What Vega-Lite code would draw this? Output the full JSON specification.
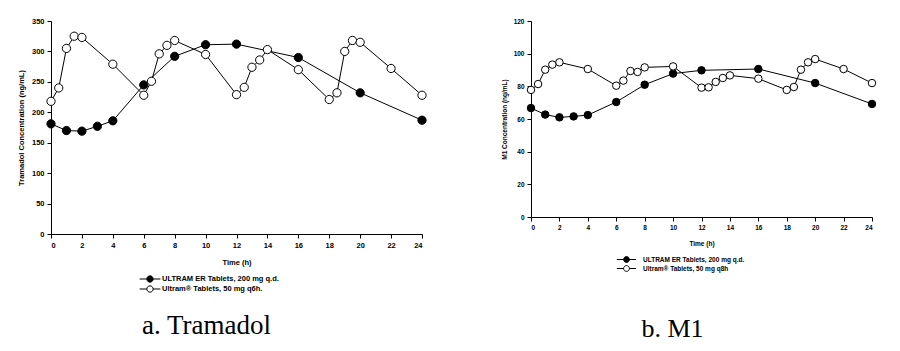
{
  "$schema": "https://vega.github.io/schema/vega-lite/v6.json",
  "background": "white",
  "padding": {"left": 17, "top": 17, "right": 5, "bottom": 5},
  "spacing": 72,
  "config": {
    "view": {"stroke": null},
    "font": "Liberation Sans",
    "axis": {"grid": false, "domainColor": "black", "tickColor": "black", "labelColor": "black", "titleColor": "black", "labelFontWeight": "bold", "titleFontWeight": "bold", "labelFont": "Liberation Sans", "titleFont": "Liberation Sans", "tickSize": 4, "labelPadding": 3},
    "legend": {"labelFont": "Liberation Sans", "labelFontWeight": "bold", "labelColor": "black"},
    "title": {"font": "Liberation Serif", "fontWeight": "normal", "color": "black"}
  },
  "datasets": {
    "tramadol": [
      {"t": 0, "c": 181, "g": "ER"}, {"t": 1, "c": 170, "g": "ER"}, {"t": 2, "c": 169, "g": "ER"}, {"t": 3, "c": 177, "g": "ER"}, {"t": 4, "c": 186, "g": "ER"}, {"t": 6, "c": 245, "g": "ER"}, {"t": 8, "c": 292, "g": "ER"}, {"t": 10, "c": 311, "g": "ER"}, {"t": 12, "c": 312, "g": "ER"}, {"t": 16, "c": 290, "g": "ER"}, {"t": 20, "c": 232, "g": "ER"}, {"t": 24, "c": 187, "g": "ER"},
      {"t": 0, "c": 218, "g": "IR"}, {"t": 0.5, "c": 240, "g": "IR"}, {"t": 1, "c": 305, "g": "IR"}, {"t": 1.5, "c": 325, "g": "IR"}, {"t": 2, "c": 323, "g": "IR"}, {"t": 4, "c": 279, "g": "IR"}, {"t": 6, "c": 228, "g": "IR"}, {"t": 6.5, "c": 251, "g": "IR"}, {"t": 7, "c": 296, "g": "IR"}, {"t": 7.5, "c": 310, "g": "IR"}, {"t": 8, "c": 318, "g": "IR"}, {"t": 10, "c": 295, "g": "IR"}, {"t": 12, "c": 229, "g": "IR"}, {"t": 12.5, "c": 241, "g": "IR"}, {"t": 13, "c": 274, "g": "IR"}, {"t": 13.5, "c": 286, "g": "IR"}, {"t": 14, "c": 303, "g": "IR"}, {"t": 16, "c": 270, "g": "IR"}, {"t": 18, "c": 221, "g": "IR"}, {"t": 18.5, "c": 232, "g": "IR"}, {"t": 19, "c": 300, "g": "IR"}, {"t": 19.5, "c": 318, "g": "IR"}, {"t": 20, "c": 315, "g": "IR"}, {"t": 22, "c": 272, "g": "IR"}, {"t": 24, "c": 228, "g": "IR"}
    ],
    "m1": [
      {"t": 0, "c": 66.7, "g": "ER"}, {"t": 1, "c": 62.7, "g": "ER"}, {"t": 2, "c": 61.0, "g": "ER"}, {"t": 3, "c": 61.6, "g": "ER"}, {"t": 4, "c": 62.4, "g": "ER"}, {"t": 6, "c": 70.4, "g": "ER"}, {"t": 8, "c": 81.0, "g": "ER"}, {"t": 10, "c": 87.8, "g": "ER"}, {"t": 12, "c": 89.8, "g": "ER"}, {"t": 16, "c": 90.6, "g": "ER"}, {"t": 20, "c": 82.0, "g": "ER"}, {"t": 24, "c": 69.2, "g": "ER"},
      {"t": 0, "c": 77.8, "g": "IR"}, {"t": 0.5, "c": 81.4, "g": "IR"}, {"t": 1, "c": 90.2, "g": "IR"}, {"t": 1.5, "c": 93.3, "g": "IR"}, {"t": 2, "c": 94.7, "g": "IR"}, {"t": 4, "c": 90.6, "g": "IR"}, {"t": 6, "c": 80.4, "g": "IR"}, {"t": 6.5, "c": 83.5, "g": "IR"}, {"t": 7, "c": 89.4, "g": "IR"}, {"t": 7.5, "c": 88.8, "g": "IR"}, {"t": 8, "c": 91.6, "g": "IR"}, {"t": 10, "c": 92.2, "g": "IR"}, {"t": 12, "c": 79.2, "g": "IR"}, {"t": 12.5, "c": 79.4, "g": "IR"}, {"t": 13, "c": 82.7, "g": "IR"}, {"t": 13.5, "c": 85.1, "g": "IR"}, {"t": 14, "c": 86.7, "g": "IR"}, {"t": 16, "c": 84.7, "g": "IR"}, {"t": 18, "c": 77.8, "g": "IR"}, {"t": 18.5, "c": 79.6, "g": "IR"}, {"t": 19, "c": 90.2, "g": "IR"}, {"t": 19.5, "c": 94.7, "g": "IR"}, {"t": 20, "c": 96.7, "g": "IR"}, {"t": 22, "c": 90.6, "g": "IR"}, {"t": 24, "c": 82.0, "g": "IR"}
    ]
  },
  "resolve": {"legend": {"fill": "independent"}, "scale": {"fill": "independent"}},
  "hconcat": [
    {
      "width": 371,
      "height": 213,
      "data": {"name": "tramadol"},
      "title": {"text": "a. Tramadol", "orient": "bottom", "anchor": "middle", "fontSize": 27, "dx": -30, "offset": 18},
      "encoding": {
        "x": {"field": "t", "type": "quantitative", "scale": {"domain": [0, 24], "nice": false}, "axis": {"values": [0,2,4,6,8,10,12,14,16,18,20,22,24], "title": "Time (h)", "labelFontSize": 7.5, "titleFontSize": 7.5, "titlePadding": 10}},
        "y": {"field": "c", "type": "quantitative", "scale": {"domain": [0, 350], "nice": false}, "axis": {"values": [0,50,100,150,200,250,300,350], "title": "Tramadol Concentration (ng/mL)", "labelFontSize": 7.5, "titleFontSize": 7.5, "titlePadding": 6}}
      },
      "layer": [
        {"mark": {"type": "line", "color": "black", "strokeWidth": 1}, "encoding": {"detail": {"field": "g"}}},
        {"mark": {"type": "point", "shape": "circle", "size": 68, "stroke": "black", "strokeWidth": 1, "opacity": 1, "filled": true},
         "encoding": {"fill": {"field": "g", "type": "nominal", "scale": {"domain": ["ER", "IR"], "range": ["black", "white"]},
           "legend": {"orient": "none", "legendX": 95, "legendY": 254, "title": null, "direction": "vertical", "symbolType": "M-3.3,0L-1,0M1,0L3.3,0M1,0A1,1 0 1,1 -1,0A1,1 0 1,1 1,0", "symbolSize": 40, "symbolStrokeColor": "black", "symbolStrokeWidth": 1, "labelFontSize": 7.5, "rowPadding": -4, "labelOffset": 8,
             "encode": {"symbols": {"update": {"size": {"value": 40}, "stroke": {"value": "black"}, "strokeWidth": {"value": 1}}}},
             "labelExpr": "datum.value == 'ER' ? 'ULTRAM ER Tablets, 200 mg q.d.' : 'Ultram® Tablets, 50 mg q6h.'"}}}}
      ]
    },
    {
      "width": 341,
      "height": 196,
      "data": {"name": "m1"},
      "title": {"text": "b. M1", "orient": "bottom", "anchor": "middle", "fontSize": 26, "dx": -29, "offset": 42},
      "encoding": {
        "x": {"field": "t", "type": "quantitative", "scale": {"domain": [0, 24], "nice": false}, "axis": {"values": [0,2,4,6,8,10,12,14,16,18,20,22,24], "title": "Time (h)", "labelFontSize": 6.5, "titleFontSize": 6.5, "titlePadding": 10}},
        "y": {"field": "c", "type": "quantitative", "scale": {"domain": [0, 120], "nice": false}, "axis": {"values": [0,20,40,60,80,100,120], "title": "M1 Concentration (ng/mL)", "labelFontSize": 6.5, "titleFontSize": 6.5, "titlePadding": 6}}
      },
      "layer": [
        {"mark": {"type": "line", "color": "black", "strokeWidth": 1}, "encoding": {"detail": {"field": "g"}}},
        {"mark": {"type": "point", "shape": "circle", "size": 56, "stroke": "black", "strokeWidth": 1, "opacity": 1, "filled": true},
         "encoding": {"fill": {"field": "g", "type": "nominal", "scale": {"domain": ["ER", "IR"], "range": ["black", "white"]},
           "legend": {"orient": "none", "legendX": 92, "legendY": 235, "title": null, "direction": "vertical", "symbolType": "M-3.3,0L-1,0M1,0L3.3,0M1,0A1,1 0 1,1 -1,0A1,1 0 1,1 1,0", "symbolSize": 34, "symbolStrokeColor": "black", "symbolStrokeWidth": 1, "labelFontSize": 6.5, "rowPadding": -2, "labelOffset": 13,
             "encode": {"symbols": {"update": {"size": {"value": 34}, "stroke": {"value": "black"}, "strokeWidth": {"value": 1}}}},
             "labelExpr": "datum.value == 'ER' ? 'ULTRAM ER Tablets, 200 mg q.d.' : 'Ultram® Tablets, 50 mg q8h'"}}}}
      ]
    }
  ]
}
